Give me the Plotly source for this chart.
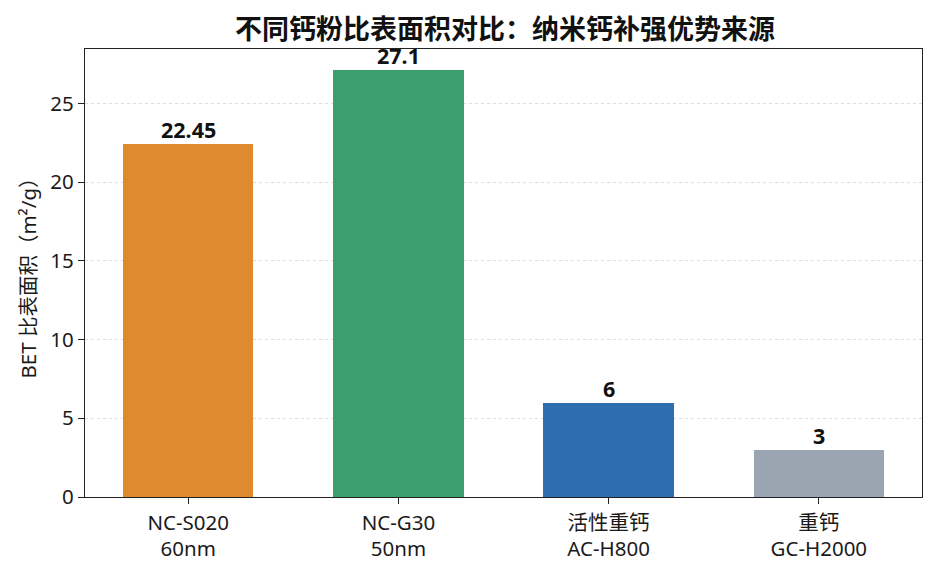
import plotly.graph_objects as go

categories = ["NC-S020<br>60nm", "NC-G30<br>50nm", "活性重钙<br>AC-H800", "重钙<br>GC-H2000"]
values = [22.45, 27.1, 6, 3]
value_labels = ["22.45", "27.1", "6", "3"]
colors = ["#DF8A2E", "#3C9E6C", "#2F6EAE", "#9BA5B2"]
y_ticks = [0, 5, 10, 15, 20, 25]

FONT = "Noto Sans, Noto Sans CJK SC, sans-serif"

fig = go.Figure()
fig.add_trace(go.Bar(
    x=list(range(len(categories))),
    y=values,
    width=0.62,
    marker=dict(color=colors, line=dict(width=0)),
    hoverinfo="skip",
))

for i, (v, t) in enumerate(zip(values, value_labels)):
    fig.add_annotation(
        x=i, y=v, text="<b>" + t + "</b>", showarrow=False,
        yanchor="bottom", yshift=-2,
        font=dict(family=FONT, size=21.5, color="#111111"),
    )

fig.update_layout(
    width=929, height=566,
    margin=dict(l=77, r=15, t=41, b=75),
    paper_bgcolor="white", plot_bgcolor="white",
    showlegend=False,
    font=dict(family=FONT, size=21, color="#1a1a1a"),
    title=dict(
        text="<b>不同钙粉比表面积对比：纳米钙补强优势来源</b>",
        x=0.535, xanchor="center", y=0.962, yanchor="middle",
        font=dict(family="Noto Sans CJK SC, sans-serif", size=27, color="#111111"),
    ),
    bargap=0,
)

fig.update_xaxes(
    tickmode="array", tickvals=list(range(len(categories))), ticktext=categories,
    range=[-0.491, 3.491],
    showline=True, linecolor="#222222", linewidth=1.4, mirror=True,
    ticks="outside", ticklen=6, tickwidth=1.4, tickcolor="#222222",
    showgrid=False, zeroline=False,
    ticklabelstandoff=1,
    tickfont=dict(family=FONT, size=20.5, color="#1a1a1a"),
)
fig.update_yaxes(
    range=[0, 28.455], tickmode="array", tickvals=y_ticks,
    showline=True, linecolor="#222222", linewidth=1.4, mirror=True,
    ticks="outside", ticklen=6, tickwidth=1.4, tickcolor="#222222",
    showgrid=True, gridcolor="#dddddd", griddash="dot", gridwidth=1,
    zeroline=False,
    tickfont=dict(family=FONT, size=20.5, color="#1a1a1a"),
    title=dict(text="BET 比表面积（m²/g）", standoff=8,
               font=dict(family=FONT, size=20.5, color="#1a1a1a")),
)

fig.write_html("out.html")
